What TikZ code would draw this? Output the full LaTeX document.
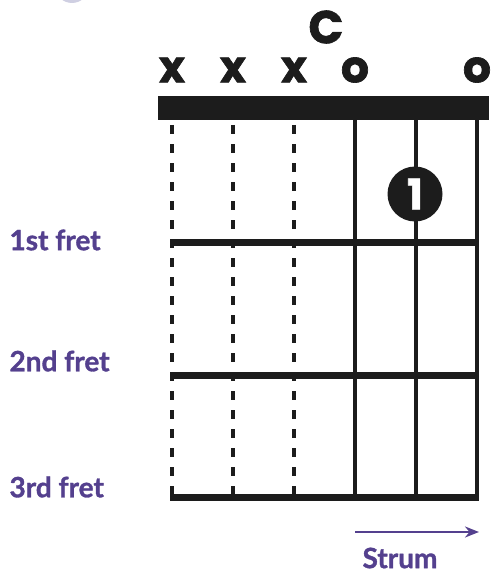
\documentclass[tikz,border=0pt]{standalone}
\usepackage{fontspec}
\setmainfont{Lato}
\newfontfamily\labelfont{Lato Bold}[FakeBold=1.2]
\newfontfamily\chordfont{Poppins Bold}[FakeBold=1.5]
\usetikzlibrary{arrows.meta,calc}
\definecolor{ink}{RGB}{28,28,28}
\definecolor{fretpurple}{RGB}{84,64,142}

\begin{document}
\begin{tikzpicture}[x=1pt,y=-1pt,
    openstring/.style={line width=4.5pt,ink},
    mutedstring/.style={line width=4.5pt,ink,dash pattern=on 9pt off 10pt},
    fretline/.style={line width=7pt,ink},
    fretlabel/.style={anchor=west,text=fretpurple,font=\labelfont\fontsize{28}{28}\selectfont},
    stringmark/.style={text=ink,font=\chordfont\fontsize{44}{44}\selectfont},
    fingerdot/.style={circle,fill=ink,minimum size=55pt,inner sep=0pt,text=white,
        font=\chordfont\fontsize{42}{42}\selectfont}
]
\useasboundingbox (0,0) rectangle (490,575);

% Logo fragment
\fill[blue!25!gray!30] (72,-14) circle (17);

% Chord name
\node[text=ink,font=\chordfont\fontsize{46}{46}\selectfont] (chord) at (326,27) {C};

% Nut
\fill[ink] (158,96) rectangle (489,120);

% Strings
\foreach \s/\x in {1/172,2/233,3/294,4/355,5/416,6/477} {
    \coordinate (top\s) at (\x,120);
    \coordinate (bot\s) at (\x,497);
}
\foreach \s in {1,2,3}
    \draw[mutedstring] ($(top\s)+(0,5)$) -- (bot\s);
\foreach \s in {4,5,6}
    \draw[openstring] (top\s) -- (bot\s);

% Frets
\draw[fretline] (170,242) -- (477,242);
\draw[fretline] (170,375) -- (477,375);
\draw[fretline] (170,497) -- (479,497);

% Open and muted marks
\foreach \s in {1,2,3}
    \node[stringmark] (mark\s) at ($(top\s)+(0,-50)$) {x};
\foreach \s in {4,6}
    \node[stringmark] (mark\s) at ($(top\s)+(0,-50)$) {o};

% Finger
\node[fingerdot] (finger) at (415,194) {1};

% Fret labels
\node[fretlabel] (fret1) at (6,240) {1st fret};
\node[fretlabel] (fret2) at (6,361) {2nd fret};
\node[fretlabel] (fret3) at (6,487) {3rd fret};

% Strum
\coordinate (strumA) at (355,532);
\coordinate (strumB) at (479,532);
\draw[fretpurple,line width=2.5pt,-{Stealth[length=14pt,width=11pt]}] (strumA) -- (strumB);
\node[fretlabel,anchor=center] (strum) at (400,558) {Strum};
\end{tikzpicture}
\end{document}
